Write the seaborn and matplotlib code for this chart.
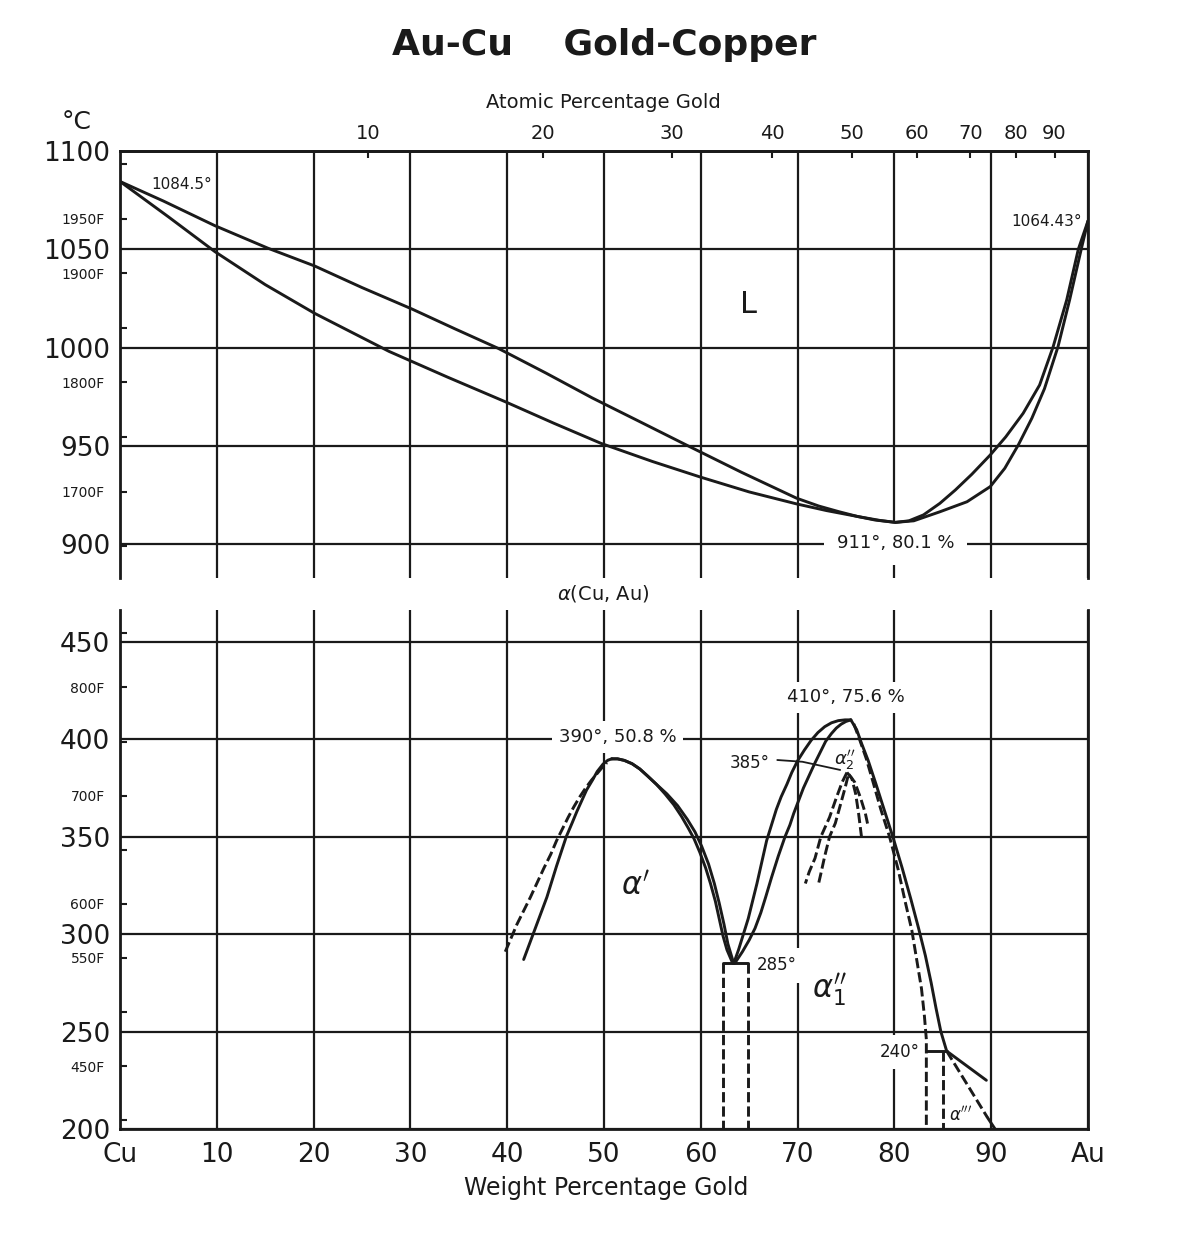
import numpy as np
import matplotlib
matplotlib.use("Agg")
import matplotlib.pyplot as plt
import seaborn as sns

# ---- data (weight % Au, temperature in C) ----
M_AU = 196.97
M_CU = 63.546

liquidus_wt = [0, 4.5, 9.8, 15.3, 20.1, 25.0, 30.2, 34.6, 39.1, 44.0, 48.8, 53.6, 58.5, 64.2, 69.9,
               72.2, 74.3, 76.2, 78.0, 80.1, 81.5, 83.0, 84.7, 86.3, 88.0, 89.9, 91.5, 93.3, 95.0,
               96.4, 97.8, 99.0, 100]
liquidus_t = [1084.5, 1074.5, 1062, 1050.5, 1041.5, 1030.5, 1019.5, 1009.5, 999.5, 987, 974.3, 962.5,
              950.4, 936.5, 923.3, 919.3, 916.4, 914, 912.2, 911, 911.8, 914.8, 920.7, 927.5, 935.5,
              945.3, 954.5, 966.5, 980.9, 1000.4, 1024.2, 1050, 1064.43]

solidus_wt = [0, 5.0, 9.8, 15.0, 20.1, 27.8, 33.8, 39.8, 44.8, 49.7, 55.0, 60.0, 65.0, 69.9, 73.0,
              76.2, 78.5, 80.1, 82.0, 84.7, 87.5, 89.9, 91.4, 92.8, 94.2, 95.5, 96.9, 98.1, 99.3, 100]
solidus_t = [1084.5, 1066.5, 1048.8, 1032, 1017.4, 998, 985, 972.4, 961.5, 951.2, 942, 934, 926.5,
             920.4, 917, 914, 912, 911, 911.8, 916.4, 921.5, 929.2, 938.5, 950.4, 964, 979, 1000.4,
             1024.2, 1050, 1064.43]

# alpha' dome (390 C, 50.8 %)
a1_left_dash_wt = [39.8, 40.4, 41.0, 41.7, 42.4, 43.1, 43.8, 44.5, 45.1, 45.7, 46.3, 46.9, 47.5,
                   48.1, 48.7, 49.3, 49.8, 50.3]
a1_left_dash_t = [291, 298, 305, 312, 319, 326.5, 334, 341, 348, 354, 360, 365.5, 370.5, 375, 379,
                  382.5, 385.5, 388]
a1_left_wt = [41.7, 42.3, 42.9, 43.5, 44.1, 44.6, 45.1, 45.6, 46.1, 46.7, 47.2, 47.7, 48.2, 48.8,
              49.3, 49.9, 50.4, 50.8]
a1_left_t = [287, 295, 303, 311, 319, 327, 335, 342.5, 350, 357, 363, 368.5, 374, 379, 383.5, 387.3,
             389.3, 390]
a1_right_in_wt = [50.8, 51.4, 52.1, 52.9, 53.7, 54.5, 55.4, 56.3, 57.2, 58.0, 58.7, 59.3, 59.9, 60.5,
                  61.0, 61.5, 61.9, 62.3, 62.7, 63.3]
a1_right_in_t = [390, 390, 389.2, 387.5, 384.8, 381.2, 377, 372, 366.5, 360.5, 354.5, 349, 342, 334,
                 326, 317, 308, 299, 292, 285]
a1_right_out_wt = [50.8, 51.4, 52.1, 52.9, 53.7, 54.5, 55.4, 56.5, 57.6, 58.6, 59.4, 60.1, 60.8,
                   61.4, 61.9, 62.4, 62.8, 63.4]
a1_right_out_t = [390, 390, 389.2, 387.5, 384.8, 381.2, 377, 372, 366, 359, 352.5, 345, 336, 326, 316,
                  305, 295, 285]

# alpha1'' dome (410 C, 75.6 %)
b_left_out_wt = [63.4, 63.9, 64.4, 64.9, 65.3, 65.8, 66.3, 66.8, 67.3, 67.8, 68.3, 68.9, 69.4, 70.0,
                 70.7, 71.4, 72.1, 72.8, 73.5, 74.2, 74.9, 75.5]
b_left_out_t = [285, 292, 300, 308, 316, 326, 337, 348, 356, 364, 370.5, 377, 383, 389, 394.5, 399.5,
                403.5, 406.5, 408.5, 409.6, 410, 410]
b_left_in_wt = [63.5, 64.3, 65.0, 65.6, 66.2, 66.7, 67.3, 68.0, 68.7, 69.2, 69.6, 70.1, 70.6, 71.2,
                71.8, 72.4, 72.9, 73.5, 74.0, 74.5, 75.0, 75.5]
b_left_in_t = [285, 291, 297, 303, 311, 319, 329, 340, 350, 356, 362, 368.5, 375, 381.5, 388, 394, 399,
               403, 405.8, 407.8, 409.2, 410]
b_right_wt = [75.5, 76.1, 76.6, 77.3, 78.1, 79.0, 79.9, 80.8, 81.7, 82.5, 83.2, 83.8, 84.3, 84.8, 85.4]
b_right_t = [410, 405, 398, 389, 377, 363, 349, 334, 318, 303, 289, 275, 262, 250, 240]
b_right_dash_wt = [75.8, 76.4, 77.1, 77.8, 78.6, 79.5, 80.4, 81.1, 81.8, 82.3, 82.8, 83.1, 83.3, 83.3]
b_right_dash_t = [408, 400, 390, 378, 364, 350, 333, 317, 302, 287, 272, 258, 246, 200]

# alpha2'' dome (385 C)
c_left_a_wt = [75.1, 74.6, 74.0, 73.3, 72.4, 71.8, 71.2, 70.8]
c_left_a_t = [383, 378, 370, 360, 350, 339, 332, 326]
c_left_b_wt = [75.2, 74.9, 74.4, 73.9, 73.3, 72.8, 72.4, 72.1]
c_left_b_t = [381, 375, 366, 357, 350, 340, 331, 324.5]
c_right_a_wt = [75.1, 75.6, 76.0, 76.3, 76.6]
c_right_a_t = [383, 380, 372, 362, 350]
c_right_b_wt = [75.3, 75.9, 76.5, 77.0, 77.3]
c_right_b_t = [382, 378, 370, 362, 355]
leader_385_wt = [67.9, 70.5, 74.4]
leader_385_t = [389.4, 388.5, 384.3]

# 285 C and 240 C horizontals, two-phase verticals, alpha''' region
h285_wt = [62.3, 64.9]
h285_t = [285, 285]
v285_left_wt = [62.3, 62.3]
v285_right_wt = [64.9, 64.9]
v285_t = [285, 200]
h240_wt = [83.3, 85.4]
h240_t = [240, 240]
v240_wt = [85.05, 85.05]
v240_t = [240, 200]
a3_solid_wt = [85.4, 89.5]
a3_solid_t = [240, 225]
a3_dash_wt = [85.4, 87.5, 89.6]
a3_dash_t = [240, 223, 206]
a3_end_wt = [89.6, 90.4]
a3_end_t = [206, 200]

# axes ticks
wt_ticks = [0, 10, 20, 30, 40, 50, 60, 70, 80, 90, 100]
wt_labels = ["Cu", "10", "20", "30", "40", "50", "60", "70", "80", "90", "Au"]
at_ticks = [10, 20, 30, 40, 50, 60, 70, 80, 90]
top_c_ticks = [900, 950, 1000, 1050, 1100]
bot_c_ticks = [200, 250, 300, 350, 400, 450]
top_f_ticks = [1650, 1700, 1750, 1800, 1850, 1900, 1950, 2000]
top_f_labels = ["", "1700F", "", "1800F", "", "1900F", "1950F", ""]
bot_f_ticks = [400, 450, 500, 550, 600, 650, 700, 750, 800, 850]
bot_f_labels = ["", "450F", "", "550F", "600F", "", "700F", "", "800F", ""]

sns.set_theme(style="white", rc={
    "text.color": "k", "axes.edgecolor": "k", "xtick.color": "k",
    "ytick.color": "k", "axes.labelcolor": "k",
})
plt.rcParams["font.family"] = ["DejaVu Sans"]

W, H = 1189, 1251
fig = plt.figure(figsize=(W / 100, H / 100), dpi=100)
axT = fig.add_axes([120 / W, 1 - 578 / H, 968 / W, 427 / H])
axB = fig.add_axes([120 / W, 1 - 1129 / H, 968 / W, 519 / H])


def f_to_c(f):
    return [(v - 32) * 5 / 9 for v in f]


def wt2at(w):
    w = np.asarray(w, dtype=float)
    with np.errstate(divide="ignore", invalid="ignore"):
        na = w / M_AU
        nc = (100 - w) / M_CU
        return 100 * na / (na + nc)


def at2wt(a):
    a = np.asarray(a, dtype=float)
    with np.errstate(divide="ignore", invalid="ignore"):
        ma = a * M_AU
        mc = (100 - a) * M_CU
        return 100 * ma / (ma + mc)


def curve(ax, xs, ys, dashed=False, lw=2.1):
    ls = (0, (3.5, 1.4)) if dashed else "-"
    sns.lineplot(x=xs, y=ys, ax=ax, sort=False, estimator=None, color="k",
                 lw=lw, linestyle=ls, zorder=4, solid_joinstyle="round")


for ax in (axT, axB):
    ax.set_xlim(0, 100)
    ax.set_xticks(wt_ticks)
    ax.grid(True, color="k", lw=1.6)
    for s in ax.spines.values():
        s.set_linewidth(2.0)
        s.set_color("k")
    ax.tick_params(axis="y", which="major", left=True, length=0, labelsize=19, pad=7)
    ax.tick_params(axis="y", which="minor", left=True, direction="in", length=5,
                   width=1.5, labelsize=10, pad=11)

axT.set_ylim(882.7, 1100)
axT.set_yticks(top_c_ticks)
axT.set_yticks(f_to_c(top_f_ticks), labels=top_f_labels, minor=True)
axT.spines["bottom"].set_visible(False)
axT.tick_params(axis="x", bottom=False, labelbottom=False, length=0)

axB.set_ylim(200, 466.4)
axB.set_yticks(bot_c_ticks)
axB.set_yticks(f_to_c(bot_f_ticks), labels=bot_f_labels, minor=True)
axB.spines["top"].set_visible(False)
axB.set_xticklabels(wt_labels)
axB.tick_params(axis="x", length=0, labelsize=19, pad=9)

sec = axT.secondary_xaxis("top", functions=(wt2at, at2wt))
sec.set_xticks(at_ticks)
sec.tick_params(direction="in", length=5, width=1.5, labelsize=14, pad=6, top=True)
sec.spines["top"].set_linewidth(2.0)

# ---- top panel: liquidus / solidus ----
curve(axT, liquidus_wt, liquidus_t)
curve(axT, solidus_wt, solidus_t)

box = dict(facecolor="white", edgecolor="none")
axT.text(64.9, 1022, "L", fontsize=22, ha="center", va="center")
axT.text(3.2, 1082.7, "1084.5°", fontsize=11, ha="left", va="center")
axT.text(99.4, 1064, "1064.43°", fontsize=11, ha="right", va="center")
axT.text(80.1, 900.3, "911°, 80.1 %", fontsize=13, ha="center", va="center",
         bbox=dict(box, pad=9), zorder=3)

# ---- bottom panel: ordering domes ----
curve(axB, a1_left_dash_wt, a1_left_dash_t, dashed=True)
curve(axB, a1_left_wt, a1_left_t)
curve(axB, a1_right_in_wt, a1_right_in_t)
curve(axB, a1_right_out_wt, a1_right_out_t)
curve(axB, b_left_out_wt, b_left_out_t)
curve(axB, b_left_in_wt, b_left_in_t)
curve(axB, b_right_wt, b_right_t)
curve(axB, b_right_dash_wt, b_right_dash_t, dashed=True)
curve(axB, c_left_a_wt, c_left_a_t, dashed=True)
curve(axB, c_left_b_wt, c_left_b_t, dashed=True)
curve(axB, c_right_a_wt, c_right_a_t, dashed=True)
curve(axB, c_right_b_wt, c_right_b_t, dashed=True)
curve(axB, leader_385_wt, leader_385_t, lw=1.3)
curve(axB, h285_wt, h285_t)
curve(axB, v285_left_wt, v285_t, dashed=True)
curve(axB, v285_right_wt, v285_t, dashed=True)
curve(axB, h240_wt, h240_t)
curve(axB, v240_wt, v240_t, dashed=True)
curve(axB, a3_solid_wt, a3_solid_t)
curve(axB, a3_dash_wt, a3_dash_t, dashed=True)
curve(axB, a3_end_wt, a3_end_t)

axB.text(51.4, 401.2, "390°, 50.8 %", fontsize=13, ha="center", va="center",
         bbox=dict(box, pad=5), zorder=3)
axB.text(75.0, 421.5, "410°, 75.6 %", fontsize=13, ha="center", va="center",
         bbox=dict(box, pad=5), zorder=3)
axB.text(65.1, 388.1, "385°", fontsize=12, ha="center", va="center")
axB.text(65.8, 284, "285°", fontsize=12, ha="left", va="center",
         bbox=dict(box, pad=6), zorder=3)
axB.text(82.6, 239.5, "240°", fontsize=12, ha="right", va="center",
         bbox=dict(box, pad=6), zorder=3)
axB.text(53.3, 324.7, r"$\alpha^{\prime}$", fontsize=22, ha="center", va="center")
axB.text(73.3, 271.4, r"$\alpha^{\prime\prime}_{1}$", fontsize=22, ha="center", va="center")
axB.text(74.9, 389.5, r"$\alpha^{\prime\prime}_{2}$", fontsize=13, ha="center", va="center")
axB.text(86.8, 207, r"$\alpha^{\prime\prime\prime}$", fontsize=12, ha="center", va="center")

# ---- figure-level text ----
fig.text(604 / W, 1 - 45 / H, "Au-Cu    Gold-Copper", fontsize=26, fontweight="bold",
         ha="center", va="center")
fig.text(603 / W, 1 - 102 / H, "Atomic Percentage Gold", fontsize=14, ha="center", va="center")
fig.text(77 / W, 1 - 122 / H, "°C", fontsize=18, ha="center", va="center")
fig.text(603 / W, 1 - 594 / H, r"$\alpha$(Cu, Au)", fontsize=14, ha="center", va="center")
fig.text(606 / W, 1 - 1188 / H, "Weight Percentage Gold", fontsize=17, ha="center", va="center")

fig.savefig("out.png", dpi=100)
